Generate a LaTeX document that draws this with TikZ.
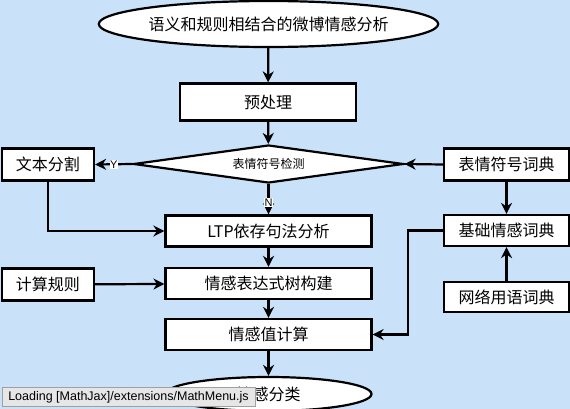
\documentclass[tikz,border=0pt]{standalone}
\usepackage{fontspec}
\setmainfont{Noto Sans CJK SC}
\newfontfamily\uifont{Liberation Sans}
\usetikzlibrary{arrows.meta,shapes.geometric}
\definecolor{bgblue}{RGB}{201,226,250}
\definecolor{loadgray}{RGB}{230,230,230}
\definecolor{loadedge}{RGB}{160,160,160}
\tikzset{
  stepbox/.style={draw=black, line width=2.2pt, fill=white, rectangle, inner sep=0pt, font=\fontsize{16}{18}\selectfont},
  termnode/.style={draw=black, line width=2.2pt, fill=white, ellipse, inner sep=0pt, font=\fontsize{16}{18}\selectfont},
  decide/.style={draw=black, line width=2.2pt, fill=white, diamond, inner sep=0pt, font=\fontsize{12}{14}\selectfont},
  flow/.style={line width=2.2pt, -{Stealth[length=11pt,width=11pt,inset=3.5pt]}},
  elab/.style={fill=white, inner sep=0.5pt, font=\uifont\fontsize{11}{12}\selectfont}
}
\begin{document}
\begin{tikzpicture}[x=1pt,y=-1pt]
\fill[bgblue] (0,0) rectangle (570,409);
\useasboundingbox (0,0) rectangle (570,409);

\node[termnode, minimum width=270pt, minimum height=46pt] (start) at (268.5,24) {语义和规则相结合的微博情感分析};
\node[stepbox, minimum width=176pt, minimum height=37pt] (pre) at (268,102) {预处理};
\node[decide, minimum width=270pt, minimum height=38pt, shape aspect=7] (det) at (268.5,164) {表情符号检测};
\node[stepbox, minimum width=92pt, minimum height=32pt] (seg) at (48,164.5) {文本分割};
\node[stepbox, minimum width=125pt, minimum height=32pt] (emo) at (506.5,164.5) {表情符号词典};
\node[stepbox, minimum width=206pt, minimum height=31pt] (ltp) at (268.5,231) {LTP依存句法分析};
\node[stepbox, minimum width=125pt, minimum height=31pt] (base) at (506.5,230.5) {基础情感词典};
\node[stepbox, minimum width=92pt, minimum height=32pt] (rule) at (48,284.5) {计算规则};
\node[stepbox, minimum width=206pt, minimum height=31pt] (tree) at (268.5,283.5) {情感表达式树构建};
\node[stepbox, minimum width=125pt, minimum height=30pt] (net) at (506.5,297) {网络用语词典};
\node[stepbox, minimum width=206pt, minimum height=31pt] (calc) at (268.5,334.5) {情感值计算};
\node[termnode, minimum width=206pt, minimum height=34pt] (cls) at (268.5,394) {情感分类};

\draw[flow] (start) -- (pre);
\draw[flow] (pre) -- (det);
\draw[flow] (det.west) -- (seg.east) node[elab, pos=0.5] {Y};
\draw[flow] (det.south) -- (ltp.north) node[elab, pos=0.6] {N};
\draw[flow] (emo.west) -- (det.east);
\draw[flow] (emo) -- (base);
\draw[flow] (seg.south) |- (ltp.west);
\draw[flow] (ltp) -- (tree);
\draw[flow] (rule) -- (tree);
\draw[flow] (tree) -- (calc);
\coordinate (bend) at (408,230.5);
\draw[flow] (base.west) -- (bend) |- (calc.east);
\draw[flow] (net) -- (base);
\draw[flow] (calc) -- (cls);

\node[draw=loadedge, line width=0.6pt, fill=loadgray, minimum width=253pt, minimum height=19pt, inner sep=0pt, font=\uifont\fontsize{12.5}{14}\selectfont] (load) at (128.5,397) {Loading [MathJax]/extensions/MathMenu.js};
\end{tikzpicture}
\end{document}
